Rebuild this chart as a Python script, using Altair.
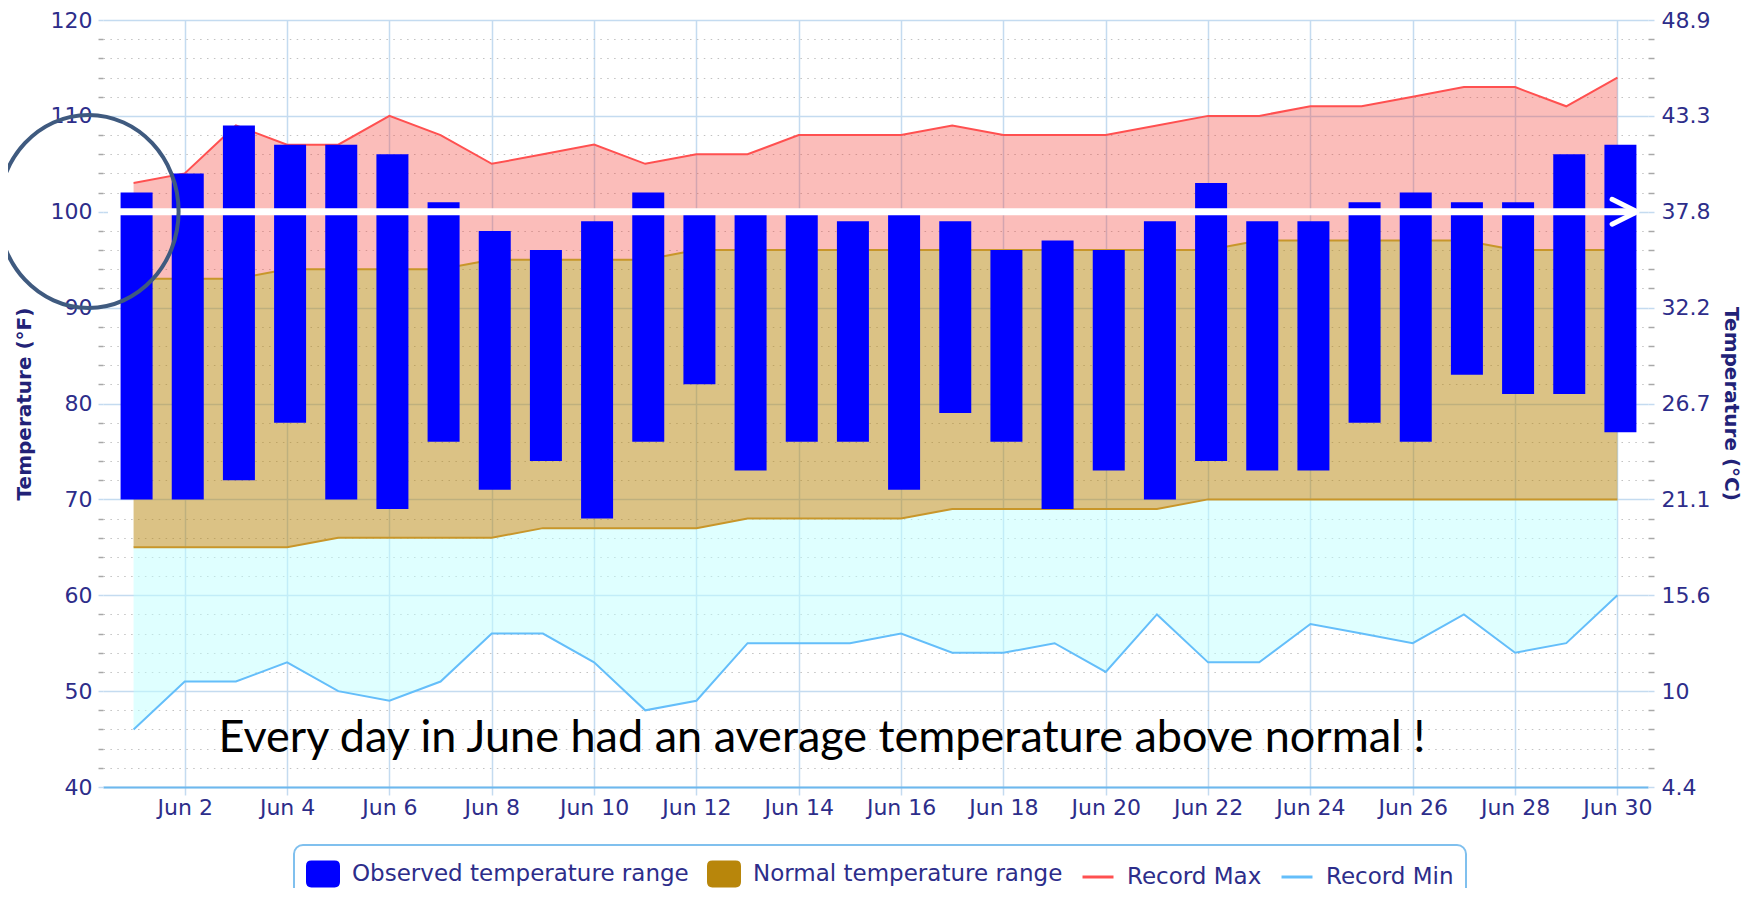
import altair as alt
import pandas as pd

# ---------------- data ----------------
days = list(range(1, 31))
obs_high = [102, 104, 109, 107, 107, 106, 101, 98, 96, 99, 102, 100, 100, 100, 99,
            100, 99, 96, 97, 96, 99, 103, 99, 99, 101, 102, 101, 101, 106, 107]
obs_low = [70, 70, 72, 78, 70, 69, 76, 71, 74, 68, 76, 82, 73, 76, 76,
           71, 79, 76, 69, 73, 70, 74, 73, 73, 78, 76, 83, 81, 81, 77]
normal_high = [93, 93, 93, 94, 94, 94, 94, 95, 95, 95, 95, 96, 96, 96, 96,
               96, 96, 96, 96, 96, 96, 96, 97, 97, 97, 97, 97, 96, 96, 96]
normal_low = [65, 65, 65, 65, 66, 66, 66, 66, 67, 67, 67, 67, 68, 68, 68,
              68, 69, 69, 69, 69, 69, 70, 70, 70, 70, 70, 70, 70, 70, 70]
record_max = [103, 104, 109, 107, 107, 110, 108, 105, 106, 107, 105, 106, 106, 108, 108,
              108, 109, 108, 108, 108, 109, 110, 110, 111, 111, 112, 113, 113, 111, 114]
record_min = [46, 51, 51, 53, 50, 49, 51, 56, 56, 53, 48, 49, 55, 55, 55,
              56, 54, 54, 55, 52, 58, 53, 53, 57, 56, 55, 58, 54, 55, 60]

series_names = ["Observed temperature range", "Normal temperature range", "Record Max", "Record Min"]
series_colors = ["#0000FF", "#B8860B", "#FF5050", "#64BEFA"]

f_ticks = list(range(40, 122, 2))
x_ticks = list(range(2, 31, 2))
annotation_text = "Every day in June had an average temperature above normal !"

df = pd.DataFrame({
    "day": days, "obs_high": obs_high, "obs_low": obs_low,
    "normal_high": normal_high, "normal_low": normal_low,
    "record_max": record_max, "record_min": record_min,
})
one = alt.Data(values=[{"k": 0}])

# ---------------- styles ----------------
LABEL_FONT = "DejaVu Sans"
LABEL_COLOR = "#2D2D8A"
TITLE_COLOR = "#222277"
GRID_BLUE = "#C4DBF0"
MAJOR = "datum.value % 10 == 0"

xscale = alt.Scale(domain=[0.5, 30.5], nice=False, zero=False)
x_axis = alt.Axis(values=x_ticks, labelExpr="'Jun ' + datum.value", grid=True,
                  gridColor=GRID_BLUE, gridWidth=1.5, domainColor="#6DB8EE", domainWidth=2,
                  tickColor=GRID_BLUE, tickWidth=1.5, tickSize=8, labelPadding=2,
                  labelFont=LABEL_FONT, labelFontSize=22, labelColor=LABEL_COLOR,
                  labelFlush=False, labelOverlap=False, title=None)
x_enc = alt.X("day:Q", scale=xscale, axis=x_axis)

yscale = alt.Scale(domain=[40, 120], nice=False, zero=False)
left_axis = alt.Axis(
    values=f_ticks, labelExpr=f"{MAJOR} ? datum.label : ''", grid=True,
    gridColor={"condition": {"test": MAJOR, "value": GRID_BLUE}, "value": "#C2C2C2"},
    gridDash={"condition": {"test": MAJOR, "value": [1, 0]}, "value": [1.5, 5.4]},
    gridWidth={"condition": {"test": MAJOR, "value": 1.5}, "value": 1.2},
    domain=False,
    tickColor={"condition": {"test": MAJOR, "value": GRID_BLUE}, "value": "#A8A8A8"},
    tickSize=5, tickWidth=1.5, labelPadding=6,
    labelFont=LABEL_FONT, labelFontSize=22, labelColor=LABEL_COLOR, labelOverlap=False,
    title="Temperature (°F)", titleFont=LABEL_FONT, titleFontSize=20, titleFontWeight="bold",
    titleColor=TITLE_COLOR, titleAngle=-90, titleX=-79, titleY=383.5,
    titleAlign="center", titleBaseline="middle",
)
right_axis = alt.Axis(
    orient="right", values=f_ticks,
    labelExpr=f"{MAJOR} ? replace(format((datum.value - 32) * 5 / 9, '.1f'), '.0', '') : ''",
    grid=False, domain=False,
    tickColor={"condition": {"test": MAJOR, "value": GRID_BLUE}, "value": "#A8A8A8"},
    tickSize=6, tickWidth=1.5, labelPadding=7,
    labelFont=LABEL_FONT, labelFontSize=22, labelColor=LABEL_COLOR, labelOverlap=False,
    title="Temperature (°C)", titleFont=LABEL_FONT, titleFontSize=20, titleFontWeight="bold",
    titleColor=TITLE_COLOR, titleAngle=90, titleX=82, titleY=383.5,
    titleAlign="center", titleBaseline="middle",
)


def Y(field):
    return alt.Y(f"{field}:Q", scale=yscale, axis=left_axis)


def XD(v):
    return alt.XDatum(v, type="quantitative", scale=xscale, axis=x_axis)


def YD(v):
    return alt.YDatum(v, type="quantitative", scale=yscale, axis=left_axis)


cscale = alt.Scale(domain=series_names, range=series_colors)
is_line = "(datum.value == 'Record Max' || datum.value == 'Record Min')"
rounded_rect = ("M -0.75 -0.77 L 0.75 -0.77 Q 1 -0.77 1 -0.52 L 1 0.52 Q 1 0.77 0.75 0.77 "
                "L -0.75 0.77 Q -1 0.77 -1 0.52 L -1 -0.52 Q -1 -0.77 -0.75 -0.77 Z")
fill_sig = (f"datum.value == '{series_names[0]}' ? '{series_colors[0]}' : "
            f"datum.value == '{series_names[1]}' ? '{series_colors[1]}' : 'transparent'")
stroke_sig = (f"datum.value == '{series_names[2]}' ? '{series_colors[2]}' : "
              f"datum.value == '{series_names[3]}' ? '{series_colors[3]}' : 'transparent'")
legend = alt.Legend(
    title=None, orient="none", legendX=191, legendY=825, direction="horizontal", columns=4,
    labelFont=LABEL_FONT, labelFontSize=23, labelColor=LABEL_COLOR, labelLimit=600,
    labelOffset=12, columnPadding=13, padding=12,
    strokeColor="#80C0EE", cornerRadius=9, fillColor="#FFFFFF",
    symbolSize=961, symbolStrokeWidth=3, symbolOpacity=1,
    symbolType={"expr": f"{is_line} ? 'stroke' : '{rounded_rect}'"},
    symbolFillColor={"expr": fill_sig},
    symbolStrokeColor={"expr": stroke_sig},
)


def C():
    return alt.Color("series:N", scale=cscale, legend=legend)


base = alt.Chart(df)

pink = base.mark_area(color="#F2362E", opacity=0.33).encode(
    x=x_enc, y=Y("normal_high"), y2="record_max")
cyan = base.mark_area(color="#C0FFFF", opacity=0.5).encode(
    x=x_enc, y=Y("record_min"), y2="normal_low")
brown = base.transform_calculate(series=f"'{series_names[1]}'").mark_area(fillOpacity=0.5).encode(
    x=x_enc, y=Y("normal_low"), y2="normal_high", color=C())
nh_line = base.mark_line(color="#C8962A", strokeWidth=2).encode(x=x_enc, y=Y("normal_high"))
nl_line = base.mark_line(color="#C8962A", strokeWidth=2).encode(x=x_enc, y=Y("normal_low"))
rmax_line = base.transform_calculate(series=f"'{series_names[2]}'").mark_line(strokeWidth=2).encode(
    x=x_enc, y=Y("record_max"), color=C())
rmin_line = base.transform_calculate(series=f"'{series_names[3]}'").mark_line(strokeWidth=2).encode(
    x=x_enc, y=Y("record_min"), color=C())
bars = base.transform_calculate(series=f"'{series_names[0]}'").mark_bar(size=32, xOffset=3).encode(
    x=x_enc, y=Y("obs_low"), y2="obs_high", color=C())

# ---------------- slide annotations ----------------
arrow = alt.Chart(one).mark_rule(color="white", strokeWidth=7).encode(
    x=XD(0.5), x2=alt.X2Datum(30.35), y=YD(100))
chevron = alt.Chart(one).mark_point(
    shape="M -1 -1 L 1 0 L -1 1", size=625, filled=False, color="white",
    strokeWidth=5, strokeCap="round", strokeJoin="round", opacity=1).encode(
    x=XD(30.14), y=YD(100))
circle = alt.Chart(one).mark_point(
    shape="M -0.933 0 A 0.933 1 0 1 0 0.933 0 A 0.933 1 0 1 0 -0.933 0 Z",
    size=193 * 193, filled=False, color="#3F5A7F", strokeWidth=4, opacity=1).encode(
    x=XD(0.12), y=YD(100.03))
note = alt.Chart(one).mark_text(
    text=annotation_text, font="Lato", fontSize=45, align="left",
    baseline="alphabetic", color="black").encode(
    x=XD(2.66), y=YD(43.7))

inner = alt.layer(pink, cyan, brown, nh_line, nl_line, rmax_line, rmin_line, bars,
                  arrow, chevron, circle, note)

right = base.mark_line(strokeOpacity=0).encode(
    x=x_enc,
    y=alt.Y("record_max:Q", scale=alt.Scale(domain=[40, 120], nice=False, zero=False),
            axis=right_axis))

chart = alt.layer(inner, right).resolve_scale(y="independent").properties(
    width=1545, height=767,
    autosize=alt.AutoSizeParams(type="none"),
    padding={"left": 95, "top": 12, "right": 96, "bottom": 101},
).configure_view(stroke=None).configure_legend(strokeWidth=2)

chart.save("out.html", embed_options={"renderer": "svg", "actions": False})
